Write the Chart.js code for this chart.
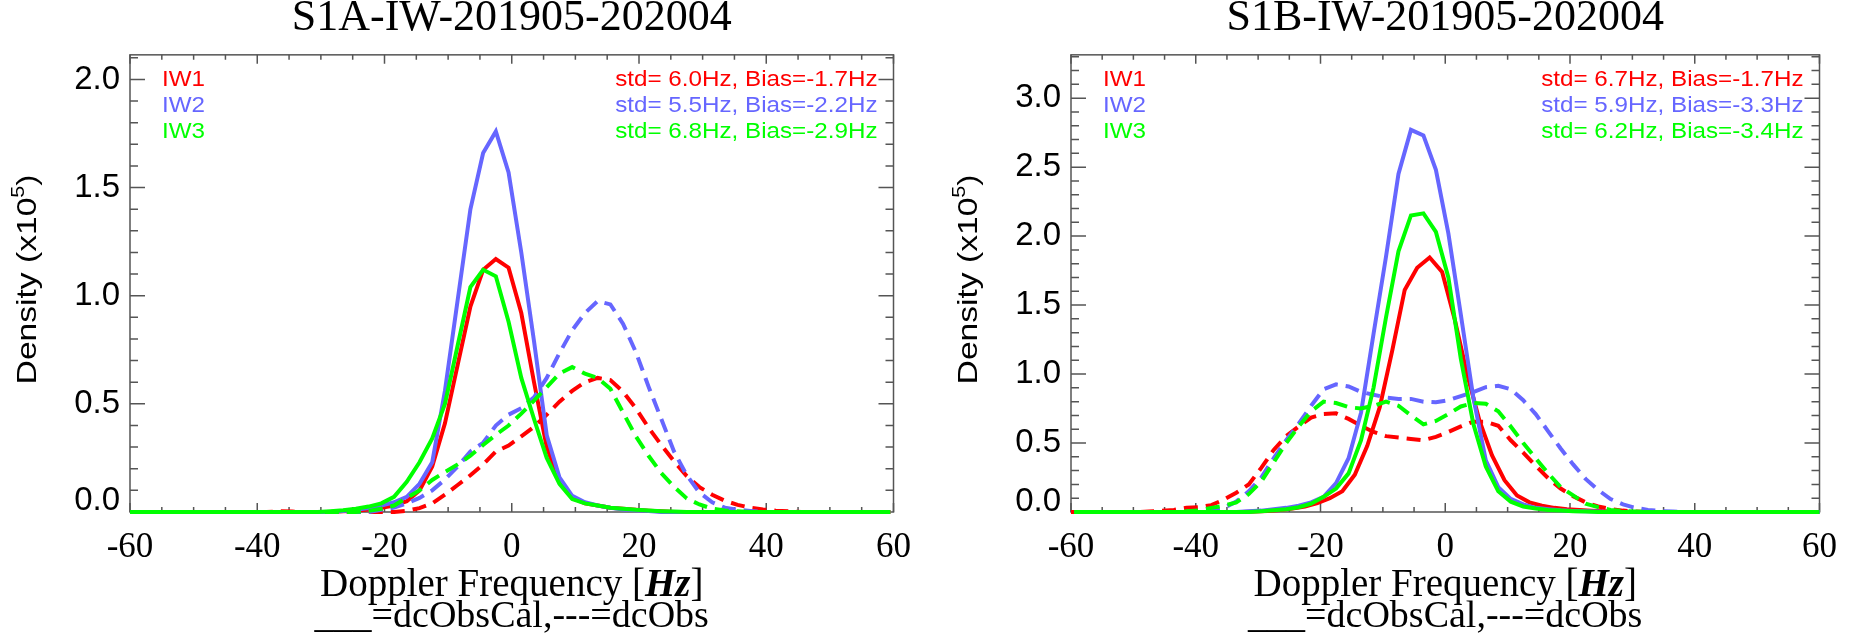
<!DOCTYPE html>
<html>
<head>
<meta charset="utf-8">
<script src="https://cdn.jsdelivr.net/npm/chart.js@4.4.0/dist/chart.umd.min.js"></script>
<style>
    html, body { margin: 0; padding: 0; background: #fff; }
    #wrap { display: flex; width: 1852px; height: 637px; }
    canvas { display: block; }
</style>
</head>
<body>
<div id="wrap">
    <canvas id="chartA" width="926" height="637"></canvas>
    <canvas id="chartB" width="926" height="637"></canvas>
</div>
<script>
// bin centres (Hz)
const xGridA = [-60.5,-58.5,-56.5,-54.5,-52.5,-50.5,-48.5,-46.5,-44.5,-42.5,
    -40.5,-38.5,-36.5,-34.5,-32.5,-30.5,-28.5,-26.5,-24.5,-22.5,
    -20.5,-18.5,-16.5,-14.5,-12.5,-10.5,-8.5,-6.5,-4.5,-2.5,
    -0.5,1.5,3.5,5.5,7.5,9.5,11.5,13.5,15.5,17.5,
    19.5,21.5,23.5,25.5,27.5,29.5,31.5,33.5,35.5,37.5,
    39.5,41.5,43.5,45.5,47.5,49.5,51.5,53.5,55.5,57.5,
    59.5];
const xGridB = [-59.5,-57.5,-55.5,-53.5,-51.5,-49.5,-47.5,-45.5,-43.5,-41.5,
    -39.5,-37.5,-35.5,-33.5,-31.5,-29.5,-27.5,-25.5,-23.5,-21.5,
    -19.5,-17.5,-15.5,-13.5,-11.5,-9.5,-7.5,-5.5,-3.5,-1.5,
    0.5,2.5,4.5,6.5,8.5,10.5,12.5,14.5,16.5,18.5,
    20.5,22.5,24.5,26.5,28.5,30.5,32.5,34.5,36.5,38.5,
    40.5,42.5,44.5,46.5,48.5,50.5,52.5,54.5,56.5,58.5,
    60.5];

// S1A densities (x10^5), solid = dcObsCal, dashed = dcObs
const iw1CalA = [0,0,0,0,0,0,0,0,0,0,
    0,0,0,0,0,0,0,0.003,0.006,0.012,
    0.02,0.03,0.05,0.10,0.21,0.41,0.68,0.95,1.12,1.17,
    1.13,0.92,0.60,0.30,0.14,0.065,0.04,0.03,0.02,0.015,
    0.01,0.006,0.003,0,0,0,0,0,0,0,
    0,0,0,0,0,0,0,0,0,0,
    0];
const iw1ObsA = [0,0,0,0,0,0,0,0,0,0,
    0,0,0.003,0.002,0,0,0,0,0,0,
    0,0,0.006,0.018,0.04,0.08,0.125,0.17,0.22,0.28,
    0.307,0.35,0.394,0.45,0.51,0.56,0.60,0.62,0.61,0.556,
    0.48,0.39,0.31,0.235,0.166,0.115,0.08,0.052,0.033,0.02,
    0.012,0.006,0.003,0,0,0,0,0,0,0,
    0];
const iw2CalA = [0,0,0,0,0,0,0,0,0,0,
    0,0,0,0,0,0,0,0.005,0.01,0.018,
    0.03,0.045,0.07,0.13,0.23,0.56,0.98,1.40,1.66,1.76,
    1.57,1.20,0.79,0.355,0.16,0.075,0.045,0.03,0.02,0.012,
    0.008,0.005,0,0,0,0,0,0,0,0,
    0,0,0,0,0,0,0,0,0,0,
    0];
const iw2ObsA = [0,0,0,0,0,0,0,0,0,0,
    0,0,0,0,0,0,0,0,0,0,
    0.01,0.02,0.04,0.065,0.10,0.15,0.21,0.28,0.32,0.40,
    0.45,0.48,0.53,0.62,0.735,0.84,0.92,0.975,0.96,0.87,
    0.74,0.58,0.43,0.28,0.17,0.09,0.045,0.02,0.01,0.005,
    0,0,0,0,0,0,0,0,0,0,
    0];
const iw3CalA = [0,0,0,0,0,0,0,0,0,0,
    0,0,0,0,0,0,0.004,0.008,0.015,0.025,
    0.04,0.07,0.14,0.23,0.34,0.50,0.77,1.04,1.12,1.09,
    0.88,0.62,0.43,0.25,0.13,0.06,0.04,0.03,0.02,0.015,
    0.01,0.007,0.004,0.002,0,0,0,0,0,0,
    0,0,0,0,0,0,0,0,0,0,
    0];
const iw3ObsA = [0,0,0,0,0,0,0,0,0,0,
    0,0,0,0,0,0,0,0,0,0.005,
    0.015,0.03,0.065,0.10,0.148,0.185,0.22,0.26,0.31,0.357,
    0.40,0.455,0.515,0.577,0.64,0.67,0.64,0.62,0.57,0.46,
    0.35,0.26,0.18,0.117,0.063,0.035,0.015,0.007,0.003,0,
    0,0,0,0,0,0,0,0,0,0,
    0];

// S1B densities (x10^5)
const iw1CalB = [0,0,0,0,0,0,0,0,0,0,
    0,0,0,0,0,0.004,0.008,0.015,0.025,0.04,
    0.065,0.10,0.15,0.27,0.48,0.76,1.17,1.61,1.77,1.845,
    1.74,1.40,1.00,0.66,0.41,0.23,0.12,0.07,0.045,0.03,
    0.02,0.014,0.009,0.006,0.003,0,0,0,0,0,
    0,0,0,0,0,0,0,0,0,0,
    0];
const iw1ObsB = [0,0,0,0,0,0,0.003,0.008,0.015,0.03,
    0.035,0.05,0.09,0.14,0.20,0.32,0.45,0.55,0.62,0.685,
    0.71,0.715,0.675,0.625,0.58,0.55,0.54,0.53,0.52,0.545,
    0.58,0.62,0.655,0.655,0.625,0.52,0.43,0.335,0.245,0.17,
    0.115,0.07,0.04,0.022,0.01,0.004,0,0,0,0,
    0,0,0,0,0,0,0,0,0,0,
    0];
const iw2CalB = [0,0,0,0,0,0,0,0,0,0,
    0,0,0,0,0.005,0.01,0.02,0.03,0.045,0.07,
    0.11,0.21,0.39,0.72,1.29,1.85,2.45,2.77,2.73,2.48,
    2.02,1.43,0.83,0.375,0.18,0.095,0.055,0.03,0.02,0.012,
    0.008,0.005,0.003,0,0,0,0,0,0,0,
    0,0,0,0,0,0,0,0,0,0,
    0];
const iw2ObsB = [0,0,0,0,0,0,0,0,0,0,
    0,0.01,0.03,0.075,0.15,0.25,0.39,0.52,0.64,0.77,
    0.89,0.925,0.91,0.87,0.85,0.83,0.82,0.82,0.80,0.795,
    0.81,0.84,0.87,0.905,0.915,0.89,0.81,0.71,0.585,0.46,
    0.345,0.24,0.16,0.094,0.055,0.03,0.015,0.007,0.003,0,
    0,0,0,0,0,0,0,0,0,0,
    0];
const iw3CalB = [0,0,0,0,0,0,0,0,0,0,
    0,0,0,0,0,0.006,0.012,0.02,0.035,0.06,
    0.11,0.17,0.28,0.52,0.90,1.41,1.89,2.15,2.165,2.03,
    1.70,1.11,0.64,0.33,0.15,0.075,0.04,0.025,0.015,0.01,
    0.006,0.004,0,0,0,0,0,0,0,0,
    0,0,0,0,0,0,0,0,0,0,
    0];
const iw3ObsB = [0,0,0,0,0,0,0,0,0,0.005,
    0.012,0.03,0.045,0.07,0.13,0.22,0.36,0.50,0.62,0.73,
    0.80,0.79,0.76,0.75,0.77,0.80,0.77,0.70,0.635,0.66,
    0.71,0.765,0.79,0.785,0.73,0.62,0.50,0.39,0.28,0.18,
    0.12,0.06,0.035,0.015,0.007,0.003,0,0,0,0,
    0,0,0,0,0,0,0,0,0,0,
    0];

const bandNames = ['IW1', 'IW2', 'IW3'];
const statsA = ['std= 6.0Hz, Bias=-1.7Hz', 'std= 5.5Hz, Bias=-2.2Hz', 'std= 6.8Hz, Bias=-2.9Hz'];
const statsB = ['std= 6.7Hz, Bias=-1.7Hz', 'std= 5.9Hz, Bias=-3.3Hz', 'std= 6.2Hz, Bias=-3.4Hz'];

const xTickVals = [-60, -40, -20, 0, 20, 40, 60];
const yTickPosA = [0.05, 0.5, 1.0, 1.5, 2.0];
const yTickTextA = ['0.0', '0.5', '1.0', '1.5', '2.0'];
const yTickPosB = [0.07, 0.5, 1.0, 1.5, 2.0, 2.5, 3.0];
const yTickTextB = ['0.0', '0.5', '1.0', '1.5', '2.0', '2.5', '3.0'];

const bandColors = ['#ff0000', '#6666ff', '#00ff00'];

// draw text stretched along its own direction
function stretchText(ctx, text, x, y, align, sx) {
    ctx.save();
    ctx.translate(x, y);
    ctx.scale(sx, 1);
    ctx.textAlign = align;
    ctx.fillText(text, 0, 0);
    ctx.restore();
}

// IDL-like box with inward ticks on all four sides, plus the text overlays
const idlFrame = {
    id: 'idlFrame',
    beforeDatasetsDraw(chart, args, opts) {
        const { ctx, chartArea: a, scales: { x, y } } = chart;
        ctx.save();
        ctx.strokeStyle = '#555';
        ctx.lineWidth = 1.5;
        ctx.strokeRect(a.left, a.top, a.right - a.left, a.bottom - a.top);
        ctx.beginPath();
        for (let v = x.min; v <= x.max + 1e-6; v += 5) {
            const px = x.getPixelForValue(v);
            const len = Math.abs(v % 20) < 1e-6 ? 9 : 5;
            ctx.moveTo(px, a.bottom); ctx.lineTo(px, a.bottom - len);
            ctx.moveTo(px, a.top); ctx.lineTo(px, a.top + len);
        }
        for (let i = 1; i * 0.1 <= y.max; i++) {
            const py = y.getPixelForValue(i * 0.1);
            const len = i % 5 === 0 ? 15 : 8;
            ctx.moveTo(a.left, py); ctx.lineTo(a.left + len, py);
            ctx.moveTo(a.right, py); ctx.lineTo(a.right - len, py);
        }
        ctx.stroke();
        ctx.restore();
    },
    afterDatasetsDraw(chart, args, opts) {
        const { ctx, chartArea: a } = chart;
        ctx.save();
        ctx.font = '22px "Liberation Sans"';
        ctx.textBaseline = 'middle';
        bandNames.forEach((name, i) => {
            const yy = a.top + 25 + i * 26;
            ctx.fillStyle = bandColors[i];
            stretchText(ctx, name, a.left + 32, yy, 'left', 1.1);
            stretchText(ctx, opts.stats[i], a.right - 16, yy, 'right', 1.1);
        });
        ctx.restore();
    },
    afterDraw(chart, args, opts) {
        const { ctx, chartArea: a } = chart;
        const cx = (a.left + a.right) / 2;
        ctx.save();
        ctx.fillStyle = '#000';
        ctx.textBaseline = 'alphabetic';
        ctx.textAlign = 'left';

        // x caption, "Hz" in bold italic
        const fReg = '39px "Liberation Serif"';
        const fBold = 'italic bold 39px "Liberation Serif"';
        const parts = [['Doppler Frequency [', fReg], ['Hz', fBold], [']', fReg]];
        let total = 0;
        parts.forEach(p => { ctx.font = p[1]; total += ctx.measureText(p[0]).width; });
        let px = cx - total / 2;
        parts.forEach(p => {
            ctx.font = p[1];
            ctx.fillText(p[0], px, a.bottom + 84);
            px += ctx.measureText(p[0]).width;
        });
        ctx.font = '38px "Liberation Serif"';
        ctx.textAlign = 'center';
        ctx.fillText('___=dcObsCal,---=dcObs', cx, a.bottom + 115);

        // y caption with superscript exponent
        ctx.translate(a.left - 94, (a.top + a.bottom) / 2 - 4);
        ctx.rotate(-Math.PI / 2);
        ctx.scale(1.2, 1);
        ctx.textAlign = 'left';
        const fMain = '28px "Liberation Sans"';
        const fSup = '18px "Liberation Sans"';
        const segs = [['Density (x10', fMain, 0], ['5', fSup, -12], [')', fMain, 0]];
        let w = 0;
        segs.forEach(s => { ctx.font = s[1]; w += ctx.measureText(s[0]).width; });
        let tx = -w / 2;
        segs.forEach(s => {
            ctx.font = s[1];
            ctx.fillText(s[0], tx, s[2]);
            tx += ctx.measureText(s[0]).width;
        });
        ctx.restore();
    }
};

function lineSet(label, xs, ys, color, dashed, order) {
    return {
        label: label,
        data: xs.map((x, i) => ({ x: x, y: ys[i] })),
        borderColor: color,
        borderWidth: 4,
        borderDash: dashed ? [14, 8] : [],
        pointRadius: 0,
        tension: 0,
        fill: false,
        order: order,
        clip: { left: 0, top: 0, right: 0, bottom: 4 }
    };
}

function buildChart(canvasId, title, sets, yMax, yPos, yText, yAxisWidth, padRight, stats) {
    return new Chart(document.getElementById(canvasId), {
        type: 'line',
        data: { datasets: sets },
        options: {
            responsive: false,
            animation: false,
            layout: { padding: { left: 0, right: padRight, top: 0, bottom: 0 } },
            plugins: {
                legend: { display: false },
                tooltip: { enabled: false },
                title: {
                    display: true,
                    text: title,
                    fullSize: false,
                    color: '#000',
                    font: { family: 'Liberation Serif', size: 44, weight: 'normal', lineHeight: 0.86 },
                    padding: { top: 0, bottom: 17 }
                },
                idlFrame: { stats: stats }
            },
            scales: {
                x: {
                    type: 'linear',
                    min: -60,
                    max: 60,
                    grid: { display: false, drawTicks: false },
                    border: { display: false },
                    afterBuildTicks: s => { s.ticks = xTickVals.map(v => ({ value: v })); },
                    afterFit: s => { s.height = 125; },
                    ticks: {
                        autoSkip: false,
                        maxRotation: 0,
                        color: '#000',
                        padding: 15,
                        font: { family: 'Liberation Serif', size: 35 },
                        callback: v => String(v)
                    }
                },
                y: {
                    type: 'linear',
                    min: 0,
                    max: yMax,
                    grid: { display: false, drawTicks: false },
                    border: { display: false },
                    afterBuildTicks: s => { s.ticks = yPos.map(v => ({ value: v })); },
                    afterFit: s => { s.width = yAxisWidth; },
                    ticks: {
                        autoSkip: false,
                        color: '#000',
                        padding: 10,
                        font: { family: 'Liberation Sans', size: 33 },
                        callback: (v, i) => yText[i]
                    }
                }
            }
        },
        plugins: [idlFrame]
    });
}

const setsA = [
    lineSet('IW1 dcObsCal', xGridA, iw1CalA, bandColors[0], false, 6),
    lineSet('IW1 dcObs', xGridA, iw1ObsA, bandColors[0], true, 5),
    lineSet('IW2 dcObsCal', xGridA, iw2CalA, bandColors[1], false, 4),
    lineSet('IW2 dcObs', xGridA, iw2ObsA, bandColors[1], true, 3),
    lineSet('IW3 dcObsCal', xGridA, iw3CalA, bandColors[2], false, 2),
    lineSet('IW3 dcObs', xGridA, iw3ObsA, bandColors[2], true, 1)
];
const setsB = [
    lineSet('IW1 dcObsCal', xGridA, iw1CalB, bandColors[0], false, 6),
    lineSet('IW1 dcObs', xGridB, iw1ObsB, bandColors[0], true, 5),
    lineSet('IW2 dcObsCal', xGridB, iw2CalB, bandColors[1], false, 4),
    lineSet('IW2 dcObs', xGridB, iw2ObsB, bandColors[1], true, 3),
    lineSet('IW3 dcObsCal', xGridB, iw3CalB, bandColors[2], false, 2),
    lineSet('IW3 dcObs', xGridB, iw3ObsB, bandColors[2], true, 1)
];

buildChart('chartA', 'S1A-IW-201905-202004', setsA, 2.114, yTickPosA, yTickTextA, 130, 28, statsA);
buildChart('chartB', 'S1B-IW-201905-202004', setsB, 3.314, yTickPosB, yTickTextB, 145, 29, statsB);
</script>
</body>
</html>
